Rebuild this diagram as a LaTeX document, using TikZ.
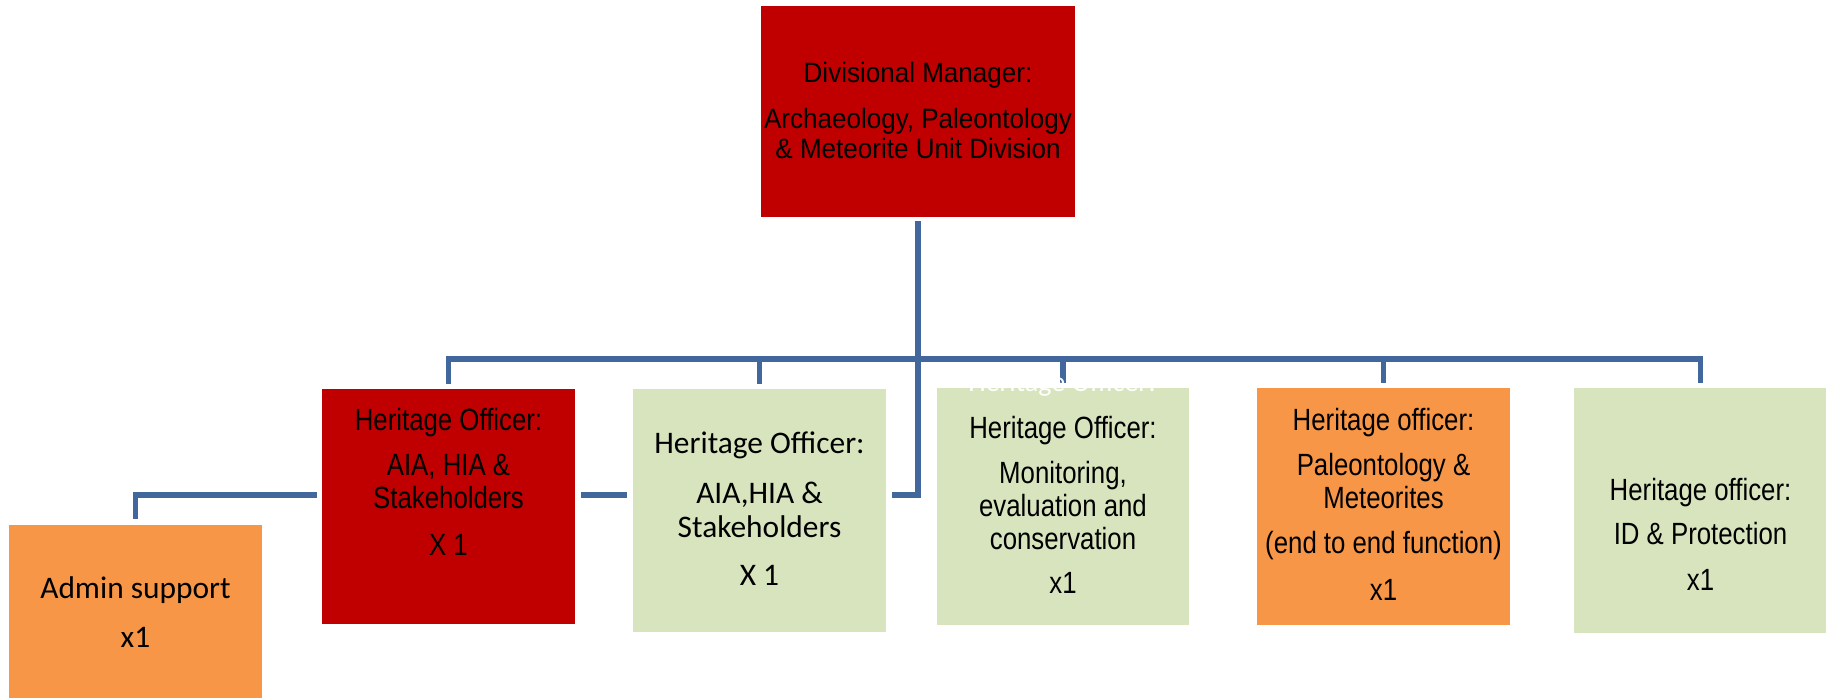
\documentclass[tikz,border=0pt]{standalone}
\usepackage{fontspec}
\setmainfont{Liberation Sans}
\newfontfamily\narrowsans[FakeStretch=0.84]{Liberation Sans}
\newfontfamily\headsans[FakeStretch=0.93]{Liberation Sans}
\newfontfamily\calsans{Carlito}
\usepackage{tikz}
\definecolor{boxred}{RGB}{192,0,0}
\definecolor{boxgreen}{RGB}{215,228,189}
\definecolor{boxorange}{RGB}{247,150,70}
\definecolor{linkblue}{RGB}{65,103,156}

\begin{document}
\begin{tikzpicture}[x=0.5pt, y=-0.5pt,
    post/.style={rectangle, inner sep=0pt, minimum width=126.5pt},
    link/.style={draw=linkblue, line width=2.75pt},
    headtxt/.style={anchor=base, align=center, inner sep=0pt, font=\headsans\fontsize{14pt}{15pt}\selectfont},
    narrowtxt/.style={anchor=base, align=center, inner sep=0pt, font=\narrowsans\fontsize{15.35pt}{16.5pt}\selectfont},
    calibtxt/.style={anchor=base, align=center, inner sep=0pt, font=\calsans\fontsize{15.7pt}{17pt}\selectfont}]
    \useasboundingbox (0,0) rectangle (1826,698);
    % boxes
    \node[post, fill=boxred, minimum width=157pt, minimum height=105.5pt] (mgr) at (918,111.5) {};
    \node[post, fill=boxorange, minimum height=86.5pt] (admin) at (135.5,611.5) {};
    \node[post, fill=boxred, minimum height=117.5pt] (hoAIA) at (448.5,506.5) {};
    \node[post, fill=boxgreen, minimum height=121.5pt] (ghoAIA) at (759.5,510.5) {};
    \node[post, fill=boxgreen, minimum width=126pt, minimum height=118.5pt] (hoMon) at (1063,506.5) {};
    \node[post, fill=boxorange, minimum height=118.5pt] (hoPal) at (1383.5,506.5) {};
    \node[post, fill=boxgreen, minimum height=122.5pt] (hoID) at (1700.5,510.5) {};
    % connectors
    \coordinate (bar) at (918,359);
    \coordinate (assist) at (918,495);
    \foreach \c in {hoAIA,ghoAIA,hoMon,hoPal,hoID}
      \draw[link, shorten <=2pt, shorten >=2.5pt] (mgr.south) -- (bar) -| (\c.north);
    \draw[link, shorten >=3pt] (bar) -- (assist) -- (assist -| ghoAIA.east);
    \draw[link, shorten <=3pt, shorten >=3pt] (assist -| hoAIA.east) -- (assist -| ghoAIA.west);
    \draw[link, shorten <=2.5pt, shorten >=3pt] (assist -| hoAIA.west) -| (admin.north);
    % texts (anchored at the last line)
    \node[headtxt] (mgrtxt) at (918,158) {Divisional Manager:\\[8pt] Archaeology, Paleontology\\ \& Meteorite Unit Division};
    \node[calibtxt] (admintxt) at (135.5,647) {Admin support\\[7.5pt] x1};
    \node[narrowtxt] (hoAIAtxt) at (448.5,555) {Heritage Officer:\\[6pt] AIA, HIA \&\\ Stakeholders\\[7pt] X 1};
    \node[calibtxt] (ghoAIAtxt) at (759.5,585) {Heritage Officer:\\[8pt] AIA,HIA \&\\ Stakeholders\\[7pt] X 1};
    \node[narrowtxt] (hoMontxt) at (1063,593) {Heritage Officer:\\[6pt] Monitoring,\\ evaluation and\\ conservation\\[5.5pt] x1};
    \node[narrowtxt] (hoPaltxt) at (1383.5,600) {Heritage officer:\\[6pt] Paleontology \&\\ Meteorites\\[6pt] (end to end function)\\[7pt] x1};
    \node[narrowtxt] (hoIDtxt) at (1700.5,590) {Heritage officer:\\[5.5pt] ID \& Protection\\[6.5pt] x1};
    \node[anchor=base, inner sep=0pt, text=white, font=\calsans\fontsize{14pt}{15pt}\selectfont] (ghost) at (1062,391) {Heritage Officer:};
\end{tikzpicture}
\end{document}
